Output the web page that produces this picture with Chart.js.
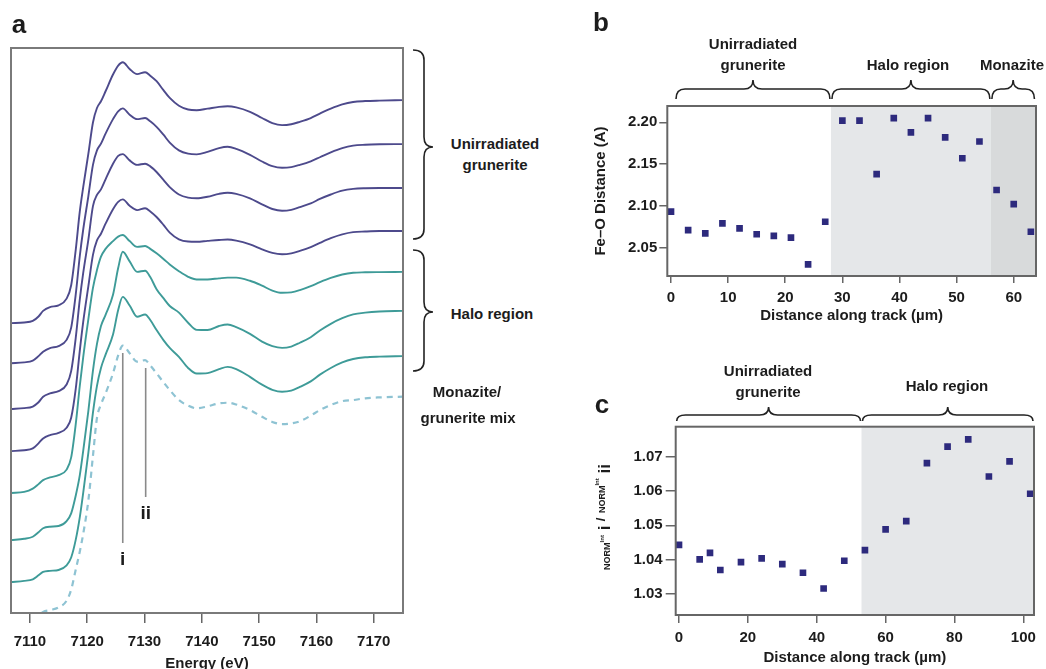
<!DOCTYPE html>
<html><head><meta charset="utf-8">
<script src="https://cdn.jsdelivr.net/npm/chart.js@4.4.1/dist/chart.umd.min.js"></script>
<style>
html,body{margin:0;padding:0;background:#fff;}
#wrap{position:relative;width:1046px;height:669px;overflow:hidden;background:#fff;font-family:"Liberation Sans",Arial,Helvetica,sans-serif;color:#1c1c1c;}
canvas{position:absolute;}
.t{position:absolute;font-weight:bold;font-size:15px;line-height:1;white-space:nowrap;transform:translate(-50%,-50%);}
.p{font-size:26px;}
.feat{font-size:19px;}
#ylc{position:absolute;left:604px;top:517px;transform:translate(-50%,-50%) rotate(-90deg);font-weight:bold;white-space:nowrap;line-height:1;}
#ylc .s{font-size:9px;}
#ylc .ss{font-size:6px;vertical-align:6px;}
#ylc .b{font-size:17px;}
#ylc .up{display:inline-block;transform:translateY(-5px);}
</style></head><body>
<div id="wrap">
<canvas id="ca" width="450" height="680" style="left:0;top:0"></canvas>
<canvas id="cb" width="466" height="330" style="left:580px;top:0"></canvas>
<canvas id="cc" width="466" height="339" style="left:580px;top:330px"></canvas>

<div class="t p" style="left:19px;top:24px">a</div>
<div class="t p" style="left:601px;top:22px">b</div>
<div class="t p" style="left:602px;top:404px">c</div>

<div class="t" style="left:495px;top:143px">Unirradiated</div>
<div class="t" style="left:495px;top:164px">grunerite</div>
<div class="t" style="left:492px;top:313px">Halo region</div>
<div class="t" style="left:467px;top:391px">Monazite/</div>
<div class="t" style="left:468px;top:417px">grunerite mix</div>

<div class="t" style="left:753px;top:43px">Unirradiated</div>
<div class="t" style="left:753px;top:64px">grunerite</div>
<div class="t" style="left:908px;top:64px">Halo region</div>
<div class="t" style="left:1012px;top:64px">Monazite</div>

<div class="t" style="left:768px;top:370px">Unirradiated</div>
<div class="t" style="left:768px;top:391px">grunerite</div>
<div class="t" style="left:947px;top:385px">Halo region</div>

<div id="ylc"><span class="s">NORM</span><span class="ss">Int</span><span class="b"> i</span> <span class="up"><span style="font-size:13px">/</span> <span class="s">NORM</span><span class="ss">Int</span></span><span class="b"> ii</span></div>
<div id="featLabels"></div>
</div>
<script>
// ---------- Panel a: Fe K-edge XANES spectra (normalised) ----------
const energy = [7106.7, 7109, 7110.5, 7111.5, 7112.3, 7113.5, 7115, 7116.4, 7117.2, 7118, 7118.7, 7119.3, 7120.2, 7121, 7121.7, 7122.4, 7123.2, 7124.5, 7125.4, 7126.2, 7127.4, 7128.7, 7130.1, 7131, 7132.1, 7133.3, 7134.4, 7136, 7137.6, 7139.1, 7141, 7143, 7144.5, 7146, 7148.4, 7150.5, 7152.3, 7154, 7155.6, 7157.1, 7159, 7160.6, 7162.5, 7164.5, 7166.4, 7168.5, 7171, 7175.1];
const specUnirr1 = [0.000, 0.003, 0.010, 0.030, 0.055, 0.072, 0.080, 0.110, 0.170, 0.330, 0.500, 0.610, 0.760, 0.900, 0.965, 0.995, 1.040, 1.115, 1.155, 1.170, 1.140, 1.117, 1.125, 1.110, 1.085, 1.045, 1.010, 0.975, 0.958, 0.955, 0.962, 0.970, 0.973, 0.968, 0.948, 0.920, 0.897, 0.888, 0.892, 0.903, 0.920, 0.940, 0.962, 0.981, 0.992, 0.996, 0.998, 1.000];
const specUnirr2 = [0.000, 0.004, 0.012, 0.032, 0.052, 0.068, 0.077, 0.105, 0.160, 0.310, 0.480, 0.600, 0.750, 0.890, 0.955, 0.985, 1.030, 1.095, 1.130, 1.143, 1.115, 1.095, 1.100, 1.085, 1.060, 1.025, 0.990, 0.955, 0.940, 0.937, 0.948, 0.965, 0.971, 0.962, 0.935, 0.905, 0.884, 0.877, 0.880, 0.890, 0.906, 0.924, 0.946, 0.965, 0.976, 0.980, 0.982, 0.983];
const specUnirr3 = [0.000, 0.004, 0.011, 0.030, 0.055, 0.070, 0.080, 0.110, 0.170, 0.320, 0.490, 0.610, 0.760, 0.910, 0.960, 0.985, 1.030, 1.100, 1.135, 1.143, 1.115, 1.095, 1.100, 1.088, 1.063, 1.027, 0.995, 0.962, 0.948, 0.945, 0.952, 0.965, 0.970, 0.965, 0.945, 0.918, 0.897, 0.889, 0.893, 0.905, 0.922, 0.942, 0.962, 0.979, 0.987, 0.990, 0.991, 0.991];
const specUnirr4 = [0.000, 0.004, 0.012, 0.035, 0.057, 0.072, 0.082, 0.105, 0.150, 0.280, 0.450, 0.580, 0.740, 0.880, 0.945, 0.975, 1.020, 1.085, 1.118, 1.129, 1.100, 1.081, 1.089, 1.075, 1.050, 1.015, 0.980, 0.950, 0.940, 0.939, 0.943, 0.947, 0.949, 0.944, 0.927, 0.905, 0.889, 0.883, 0.887, 0.898, 0.915, 0.934, 0.955, 0.972, 0.982, 0.985, 0.987, 0.987];
const specHalo1 = [0.000, 0.005, 0.020, 0.040, 0.058, 0.070, 0.080, 0.105, 0.160, 0.310, 0.480, 0.610, 0.780, 0.920, 1.000, 1.060, 1.095, 1.130, 1.150, 1.157, 1.130, 1.104, 1.108, 1.095, 1.075, 1.050, 1.025, 0.995, 0.970, 0.958, 0.958, 0.963, 0.966, 0.966, 0.952, 0.930, 0.908, 0.898, 0.900, 0.910, 0.928, 0.946, 0.965, 0.980, 0.988, 0.990, 0.991, 0.992];
const specHalo2 = [0.000, 0.006, 0.015, 0.035, 0.053, 0.060, 0.063, 0.085, 0.120, 0.200, 0.290, 0.400, 0.580, 0.760, 0.880, 0.960, 1.010, 1.100, 1.220, 1.293, 1.250, 1.203, 1.208, 1.180, 1.125, 1.085, 1.050, 1.020, 0.975, 0.943, 0.942, 0.960, 0.967, 0.955, 0.925, 0.890, 0.870, 0.862, 0.868, 0.885, 0.910, 0.940, 0.970, 0.995, 1.012, 1.020, 1.025, 1.028];
const specHalo3 = [0.000, 0.005, 0.012, 0.030, 0.045, 0.050, 0.054, 0.075, 0.110, 0.190, 0.290, 0.400, 0.580, 0.760, 0.880, 0.960, 1.020, 1.110, 1.220, 1.279, 1.240, 1.190, 1.200, 1.175, 1.130, 1.085, 1.050, 1.010, 0.960, 0.935, 0.937, 0.955, 0.965, 0.955, 0.920, 0.885, 0.862, 0.853, 0.858, 0.875, 0.900, 0.930, 0.960, 0.985, 1.000, 1.008, 1.011, 1.013];
const specMix = [0.000, 0.010, 0.020, 0.035, 0.050, 0.058, 0.070, 0.100, 0.150, 0.240, 0.320, 0.400, 0.550, 0.750, 0.920, 0.980, 1.030, 1.120, 1.200, 1.244, 1.210, 1.172, 1.179, 1.155, 1.120, 1.080, 1.045, 1.000, 0.975, 0.963, 0.972, 0.985, 0.988, 0.980, 0.955, 0.925, 0.902, 0.892, 0.895, 0.905, 0.930, 0.955, 0.978, 0.995, 1.000, 1.008, 1.012, 1.015];
const stackOffset = [1.30, 1.12, 0.915, 0.726, 0.538, 0.327, 0.139, -0.045];
const energyTicks = [7110, 7120, 7130, 7140, 7150, 7160, 7170];
const featureEnergy = [7126.2, 7130.2];
const featureTop = [1.166, 1.099];
const featureBottom = [0.314, 0.52];
const featureNames = ['i', 'ii'];

// ---------- Panel b: Fe–O distance ----------
const distB = [0, 3, 6, 9, 12, 15, 18, 21, 24, 27, 30, 33, 36, 39, 42, 45, 48, 51, 54, 57, 60, 63];
const feoDist = [2.093, 2.071, 2.067, 2.079, 2.073, 2.066, 2.064, 2.062, 2.030, 2.081, 2.202, 2.202, 2.138, 2.205, 2.188, 2.205, 2.182, 2.157, 2.177, 2.119, 2.102, 2.069];
const regionEdgesB = [0.7, 28, 56, 63.8];
const ticksBx = [0, 10, 20, 30, 40, 50, 60];
const ticksBy = [2.05, 2.10, 2.15, 2.20];

// ---------- Panel c: intensity ratio i / ii ----------
const distC = [0, 6, 9, 12, 18, 24, 30, 36, 42, 48, 54, 60, 66, 72, 78, 84, 90, 96, 102];
const ratioC = [1.0443, 1.0401, 1.0420, 1.0370, 1.0393, 1.0404, 1.0387, 1.0362, 1.0316, 1.0397, 1.0428, 1.0488, 1.0512, 1.0681, 1.0729, 1.0750, 1.0642, 1.0686, 1.0592];
const regionEdgesC = [-0.96, 53, 103.1];
const ticksCx = [0, 20, 40, 60, 80, 100];
const ticksCy = [1.03, 1.04, 1.05, 1.06, 1.07];

const FONT = '"Liberation Sans", Arial, Helvetica, sans-serif';
const INK = '#1c1c1c';
const PURPLE = '#4d4a8c', TEAL = '#3e9b98', MIX = '#8ec3d3', MARK = '#2d2a7d';

function tickFont() { return { family: FONT, size: 15, weight: 'bold' }; }

const framePlugin = {
  id: 'frame',
  afterDatasetsDraw(chart, args, opts) {
    const a = chart.chartArea, c = chart.ctx;
    c.save(); c.strokeStyle = opts.color || '#6a6a6a'; c.lineWidth = 2;
    c.strokeRect(a.left, a.top, a.right - a.left, a.bottom - a.top);
    c.restore();
  }
};

function hBrace(c, x1, x2, xm, yEnd, yBody, yTip) {
  const r = 9;
  c.beginPath();
  c.moveTo(x1, yEnd);
  c.quadraticCurveTo(x1, yBody, x1 + r, yBody);
  c.lineTo(xm - r, yBody);
  c.quadraticCurveTo(xm, yBody, xm, yTip);
  c.quadraticCurveTo(xm, yBody, xm + r, yBody);
  c.lineTo(x2 - r, yBody);
  c.quadraticCurveTo(x2, yBody, x2, yEnd);
  c.stroke();
}
function vBrace(c, y1, y2, ym, xEnd, xBody, xTip) {
  const r = 10;
  c.beginPath();
  c.moveTo(xEnd, y1);
  c.quadraticCurveTo(xBody, y1, xBody, y1 + r);
  c.lineTo(xBody, ym - r);
  c.quadraticCurveTo(xBody, ym, xTip, ym);
  c.quadraticCurveTo(xBody, ym, xBody, ym + r);
  c.lineTo(xBody, y2 - r);
  c.quadraticCurveTo(xBody, y2, xEnd, y2);
  c.stroke();
}

const regionPlugin = {
  id: 'regions',
  beforeDatasetsDraw(chart, args, opts) {
    const a = chart.chartArea, c = chart.ctx, xs = chart.scales.x;
    const e = opts.edges;
    c.save();
    const fills = ['#e5e7e9', '#d8dadb'];
    for (let i = 1; i < e.length - 1; i++) {
      const x0 = xs.getPixelForValue(e[i]);
      const x1 = (i + 1 === e.length - 1) ? a.right : xs.getPixelForValue(e[i + 1]);
      c.fillStyle = fills[i - 1];
      c.fillRect(x0, a.top, x1 - x0, a.bottom - a.top);
    }
    c.restore();
  },
  afterDraw(chart, args, opts) {
    const c = chart.ctx, xs = chart.scales.x, a = chart.chartArea;
    const e = opts.edges;
    c.save(); c.strokeStyle = '#222'; c.lineWidth = 1.6;
    for (let i = 0; i < e.length - 1; i++) {
      const x1 = Math.max(xs.getPixelForValue(e[i]), a.left);
      const x2 = Math.min(xs.getPixelForValue(e[i + 1]), a.right);
      hBrace(c, x1 + 1, x2 - 1, (x1 + x2) / 2, opts.yEnd, opts.yBody, opts.yTip);
    }
    c.restore();
  }
};

const sideBracePlugin = {
  id: 'sideBraces',
  afterDraw(chart) {
    const c = chart.ctx, a = chart.chartArea;
    c.save(); c.strokeStyle = '#222'; c.lineWidth = 1.6;
    const xEnd = a.right + 10, xBody = a.right + 21, xTip = a.right + 30;
    vBrace(c, 50, 239, 147, xEnd, xBody, xTip);
    vBrace(c, 250, 371, 312, xEnd, xBody, xTip);
    c.restore();
  }
};

// ----- Chart A -----
const spectra = [specUnirr1, specUnirr2, specUnirr3, specUnirr4, specHalo1, specHalo2, specHalo3, specMix];
const colors = [PURPLE, PURPLE, PURPLE, PURPLE, TEAL, TEAL, TEAL, MIX];
const dsA = spectra.map((s, k) => ({
  data: energy.map((e, i) => ({ x: e, y: s[i] + stackOffset[k] })),
  borderColor: colors[k], borderWidth: k === 7 ? 2.2 : 1.9,
  borderDash: k === 7 ? [6, 5] : [],
  pointRadius: 0, cubicInterpolationMode: 'monotone', fill: false
}));
featureEnergy.forEach((e, k) => {
  dsA.push({ data: [{ x: e, y: featureTop[k] }, { x: e, y: featureBottom[k] }], borderColor: '#8a8a8a', borderWidth: 1.6, pointRadius: 0, fill: false });
});

const chartA = new Chart(document.getElementById('ca'), {
  type: 'line',
  data: { datasets: dsA },
  options: {
    responsive: false, animation: false, devicePixelRatio: 1,
    layout: { padding: { left: 11, right: 47, top: 48, bottom: 0 } },
    plugins: { legend: { display: false }, tooltip: { enabled: false }, frame: { color: '#7a7a7a' } },
    scales: {
      x: {
        type: 'linear', min: 7106.7, max: 7175.1,
        afterBuildTicks: s => { s.ticks = energyTicks.map(v => ({ value: v })); },
        afterFit: s => { s.height = 67; },
        grid: { display: true, drawOnChartArea: false, drawTicks: true, tickLength: 10, color: '#666', lineWidth: 1.5 },
        border: { display: false },
        ticks: { font: tickFont(), color: INK, padding: 10, maxRotation: 0, callback: v => String(v) },
        title: { display: true, text: 'Energy (eV)', font: tickFont(), color: INK, padding: { top: 0, bottom: 7 } }
      },
      y: { type: 'linear', display: false, min: 0, max: 2.534 }
    }
  },
  plugins: [framePlugin, sideBracePlugin]
});

// feature labels i, ii as HTML text
(function () {
  const host = document.getElementById('featLabels');
  featureEnergy.forEach((e, k) => {
    const d = document.createElement('div');
    d.className = 't feat';
    d.textContent = featureNames[k];
    d.style.left = chartA.scales.x.getPixelForValue(e) + 'px';
    d.style.top = (chartA.scales.y.getPixelForValue(featureBottom[k]) + 15) + 'px';
    host.appendChild(d);
  });
})();

// ----- Chart B -----
new Chart(document.getElementById('cb'), {
  type: 'scatter',
  data: { datasets: [{ data: distB.map((x, i) => ({ x, y: feoDist[i] })), backgroundColor: MARK, borderWidth: 0, pointStyle: 'rect', pointRadius: 4.7 }] },
  options: {
    responsive: false, animation: false, devicePixelRatio: 1,
    layout: { padding: { left: 0, right: 10, top: 106, bottom: 0 } },
    plugins: { legend: { display: false }, tooltip: { enabled: false }, frame: { color: '#666' },
      regions: { edges: regionEdgesB, yEnd: 99, yBody: 89, yTip: 80 } },
    scales: {
      x: {
        type: 'linear', min: -0.65, max: 63.9,
        afterBuildTicks: s => { s.ticks = ticksBx.map(v => ({ value: v })); },
        afterFit: s => { s.height = 54; },
        grid: { display: true, drawOnChartArea: false, drawTicks: true, tickLength: 7, color: '#666', lineWidth: 1.5 },
        border: { display: false },
        ticks: { font: tickFont(), color: INK, padding: 6, maxRotation: 0, callback: v => String(v) },
        title: { display: true, text: 'Distance along track (µm)', font: tickFont(), color: INK, padding: { top: 0, bottom: 5 } }
      },
      y: {
        type: 'linear', min: 2.016, max: 2.2195,
        afterBuildTicks: s => { s.ticks = ticksBy.map(v => ({ value: v })); },
        afterFit: s => { s.width = 87.3; },
        grid: { display: true, drawOnChartArea: false, drawTicks: true, tickLength: 8, color: '#666', lineWidth: 1.5 },
        border: { display: false },
        ticks: { font: tickFont(), color: INK, padding: 2, callback: v => v.toFixed(2) },
        title: { display: true, text: 'Fe–O Distance (A)', font: tickFont(), color: INK, padding: { top: 12, bottom: 0 } }
      }
    }
  },
  plugins: [regionPlugin, framePlugin]
});

// ----- Chart C -----
new Chart(document.getElementById('cc'), {
  type: 'scatter',
  data: { datasets: [{ data: distC.map((x, i) => ({ x, y: ratioC[i] })), backgroundColor: MARK, borderWidth: 0, pointStyle: 'rect', pointRadius: 4.7 }] },
  options: {
    responsive: false, animation: false, devicePixelRatio: 1,
    layout: { padding: { left: 0, right: 12, top: 96.7, bottom: 0 } },
    plugins: { legend: { display: false }, tooltip: { enabled: false }, frame: { color: '#666' },
      regions: { edges: regionEdgesC, yEnd: 91, yBody: 85, yTip: 77 } },
    scales: {
      x: {
        type: 'linear', min: -0.96, max: 103.1,
        afterBuildTicks: s => { s.ticks = ticksCx.map(v => ({ value: v })); },
        afterFit: s => { s.height = 54; },
        grid: { display: true, drawOnChartArea: false, drawTicks: true, tickLength: 8, color: '#666', lineWidth: 1.5 },
        border: { display: false },
        ticks: { font: tickFont(), color: INK, padding: 6, maxRotation: 0, callback: v => String(v) },
        title: { display: true, text: 'Distance along track (µm)', font: tickFont(), color: INK, padding: { top: 0, bottom: 2 } }
      },
      y: {
        type: 'linear', min: 1.0239, max: 1.0787,
        afterBuildTicks: s => { s.ticks = ticksCy.map(v => ({ value: v })); },
        afterFit: s => { s.width = 95.7; },
        grid: { display: true, drawOnChartArea: false, drawTicks: true, tickLength: 10, color: '#666', lineWidth: 1.5 },
        border: { display: false },
        ticks: { font: tickFont(), color: INK, padding: 3, callback: v => v.toFixed(2) }
      }
    }
  },
  plugins: [regionPlugin, framePlugin]
});
</script>
</body></html>
